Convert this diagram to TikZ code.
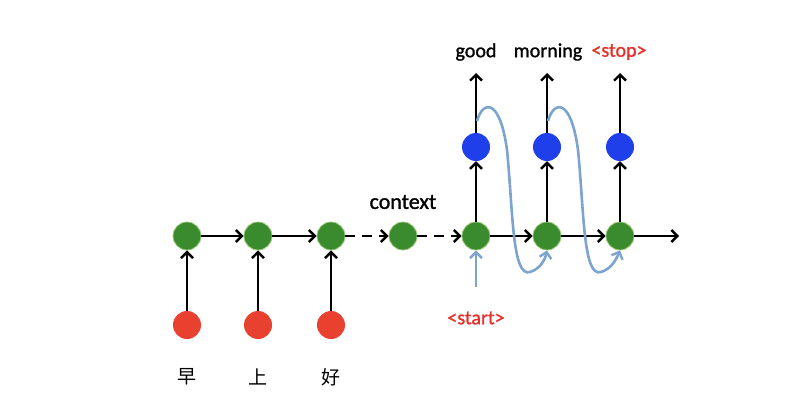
\documentclass[tikz,border=0pt]{standalone}
\usepackage{fontspec}
\setmainfont{Carlito}[FakeBold=1.2]
\newfontfamily\cjk{Noto Sans CJK SC}
\usetikzlibrary{arrows.meta}
\definecolor{gnode}{HTML}{3A8A2E}
\definecolor{gedge}{HTML}{9CCB7A}
\definecolor{rnode}{HTML}{E8412F}
\definecolor{bnode}{HTML}{1E3FEA}
\definecolor{curvec}{HTML}{7DA4CF}
\definecolor{labred}{HTML}{E8302A}
\begin{document}
\begin{tikzpicture}[x=1pt,y=-1pt,
  dot/.style={circle,inner sep=0pt,minimum size=28pt},
  gdot/.style={dot,fill=gnode,draw=gedge,line width=0.8pt},
  rdot/.style={dot,fill=rnode},
  bdot/.style={dot,fill=bnode},
  arr/.style={draw=black,line width=2.8pt,-{Straight Barb[length=6pt,width=12pt,line width=2.4pt]}},
  darr/.style={arr,dash pattern=on 10pt off 7pt},
  carr/.style={draw=curvec,line width=2.6pt,-{Straight Barb[length=6pt,width=12pt,line width=2.4pt]}},
  lab/.style={font=\fontsize{20}{24}\selectfont,inner sep=0pt},
  clab/.style={font=\cjk\fontsize{19}{22}\selectfont,inner sep=0pt}]
\useasboundingbox (0,0) rectangle (808,420);
% green row
\node[gdot] (g1) at (187,236) {};
\node[gdot] (g2) at (258,236) {};
\node[gdot] (g3) at (331,236) {};
\node[gdot] (g4) at (403,236) {};
\node[gdot] (g5) at (476,236) {};
\node[gdot] (g6) at (547,236) {};
\node[gdot] (g7) at (620,236) {};
% red
\node[rdot] (r1) at (187,325) {};
\node[rdot] (r2) at (258,325) {};
\node[rdot] (r3) at (331,325) {};
% blue
\node[bdot] (b1) at (476,147) {};
\node[bdot] (b2) at (547,147) {};
\node[bdot] (b3) at (620,147) {};
% labels
\node[lab] (w1) at (476,52) {good};
\node[lab] (w2) at (548,52) {morning};
\node[lab,text=labred] (w3) at (619,52) {<stop>};
\node[lab,font=\fontsize{22}{26}\selectfont] (ctx) at (403,202) {context};
\node[lab,text=labred] (st) at (476,318) {<start>};
\node[clab] (c1) at (187,377) {早};
\node[clab] (c2) at (258,377) {上};
\node[clab] (c3) at (331,377) {好};
\coordinate (t1) at (476,73);
\coordinate (t2) at (547,73);
\coordinate (t3) at (620,73);
\coordinate (e7) at (679,236);
\coordinate (s0) at (476,287);
% arrows
\draw[arr] (r1) -- (g1);
\draw[arr] (r2) -- (g2);
\draw[arr] (r3) -- (g3);
\draw[arr] (g1) -- (g2);
\draw[arr] (g2) -- (g3);
\draw[darr] (g3) -- (g4);
\draw[darr] (g4) -- (g5);
\draw[arr] (g5) -- (g6);
\draw[arr] (g6) -- (g7);
\draw[arr] (g7) -- (e7);
\draw[arr] (g5) -- (b1);
\draw[arr] (g6) -- (b2);
\draw[arr] (g7) -- (b3);
\draw[arr] (b1) -- (t1);
\draw[arr] (b2) -- (t2);
\draw[arr] (b3) -- (t3);
\draw[carr] (s0) -- (g5);
% feedback curves
\coordinate (f1) at (477,121);
\coordinate (f2) at (548,121);
\draw[carr] (f1) .. controls (483,100) and (500,98) .. (507,150)
  .. controls (513,210) and (512,278) .. (530,272)
  .. controls (540,269) and (545,260) .. (g6.south);
\draw[carr] (f2) .. controls (554,100) and (571,98) .. (578,150)
  .. controls (584,210) and (583,278) .. (601,272)
  .. controls (611,269) and (616,260) .. (g7.south);
\end{tikzpicture}
\end{document}
